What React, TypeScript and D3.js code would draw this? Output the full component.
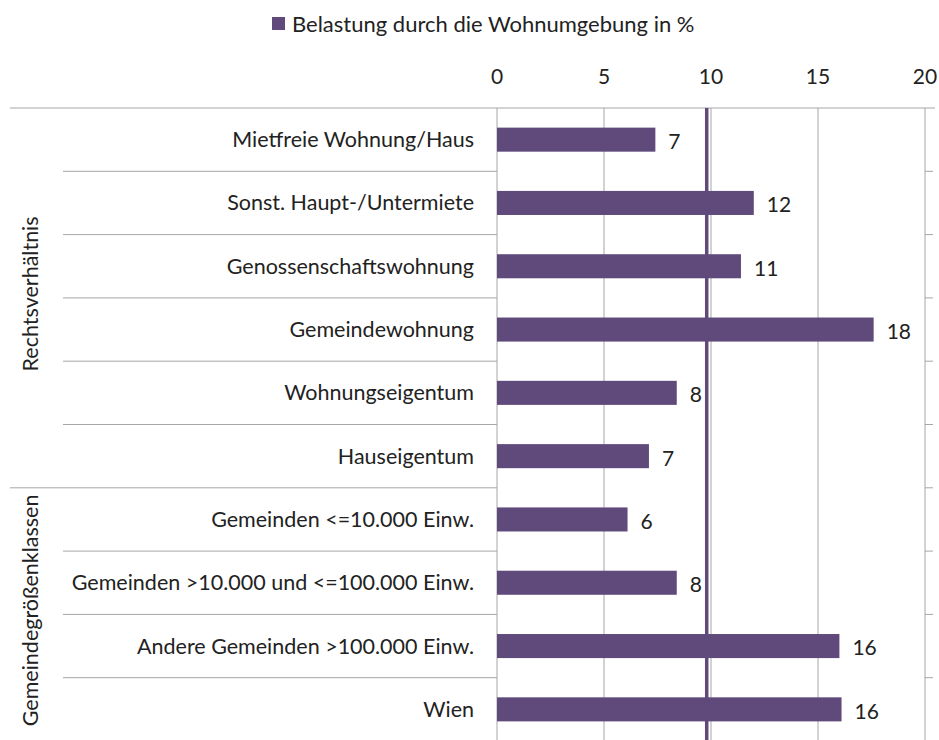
import React from 'react';
import * as d3 from "d3";

const categories = [
    "Mietfreie Wohnung/Haus",
    "Sonst. Haupt-/Untermiete",
    "Genossenschaftswohnung",
    "Gemeindewohnung",
    "Wohnungseigentum",
    "Hauseigentum",
    "Gemeinden <=10.000 Einw.",
    "Gemeinden >10.000 und <=100.000 Einw.",
    "Andere Gemeinden >100.000 Einw.",
    "Wien",
];
const values = [7.4, 12.0, 11.4, 17.6, 8.4, 7.1, 6.1, 8.4, 16.0, 16.1];
const groupNames = ["Rechtsverhältnis", "Gemeindegrößenklassen"];
const groupSizes = [6, 4];
const referenceValue = 9.8;
const seriesName = "Belastung durch die Wohnumgebung in %";

const width = 939, height = 740;
const font = "Lato, 'Open Sans', sans-serif";
const purple = "#5f4a7b";
const grid = "#a6a6a6";
const textColor = "#222";

const App = () => {
    const x = d3.scaleLinear().domain([0, 20]).range([497, 925]);
    const y = d3.scaleBand().domain(categories).range([108, 741]);
    const step = y.step();
    const barH = step * 0.38;
    const ticks = x.ticks(4);

    // index of first row in each group
    const groupStarts = groupSizes.map((_, i) => d3.sum(groupSizes.slice(0, i)));

    return (
        <svg width={width} height={height} style={{ position: "absolute", left: 0, top: 0, background: "#fff" }}
            fontFamily={font}>
            {/* legend */}
            <rect x={272} y={17} width={13} height={13} fill={purple} />
            <text x={292} y={24} dy="0.35em" fontSize={22} fill={textColor}>{seriesName}</text>

            {/* top axis labels */}
            {ticks.map(t => (
                <text key={t} x={x(t)} y={77} dy="0.35em" textAnchor="middle" fontSize={21} fill={textColor}>{t}</text>
            ))}

            {/* vertical gridlines */}
            {ticks.map(t => (
                <line key={"g" + t} x1={x(t)} x2={x(t)} y1={108} y2={height} stroke={grid} strokeWidth={1} />
            ))}

            <line x1={10} x2={935} y1={108} y2={108} stroke={grid} />

            {/* row separators */}
            {categories.map((c, i) => {
                if (i === 0) return null;
                const yy = y(c);
                const isGroup = groupStarts.includes(i);
                return (
                    <g key={"s" + c}>
                        <line x1={isGroup ? 10 : 63} x2={x(0)} y1={yy} y2={yy} stroke={grid} />
                        <line x1={x(20)} x2={933} y1={yy} y2={yy} stroke={grid} />
                    </g>
                );
            })}

            {/* bars */}
            {categories.map((c, i) => (
                <rect key={"b" + c} x={x(0)} y={y(c) + (step - barH) / 2} width={x(values[i]) - x(0)} height={barH} fill={purple} />
            ))}

            <line x1={x(referenceValue)} x2={x(referenceValue)} y1={108} y2={height} stroke={purple} strokeWidth={3.5} />

            {/* value labels */}
            {categories.map((c, i) => (
                <text key={"v" + c} x={x(values[i]) + 13} y={y(c) + step / 2 + 2} dy="0.35em" fontSize={21} fill={textColor}>
                    {Math.round(values[i])}
                </text>
            ))}

            {/* category labels */}
            {categories.map(c => (
                <text key={"l" + c} x={474} y={y(c) + step / 2} dy="0.35em" textAnchor="end" fontSize={21.5} fill={textColor}>{c}</text>
            ))}

            {/* group labels */}
            {groupNames.map((g, i) => {
                const y0 = y(categories[groupStarts[i]]);
                const y1 = y0 + step * groupSizes[i];
                const cy = (y0 + y1) / 2 - 4;
                return (
                    <text key={g} transform={`translate(30,${cy}) rotate(-90)`} dy="0.35em" textAnchor="middle" fontSize={21.5} fill={textColor}>{g}</text>
                );
            })}
        </svg>
    );
};

export default App;
